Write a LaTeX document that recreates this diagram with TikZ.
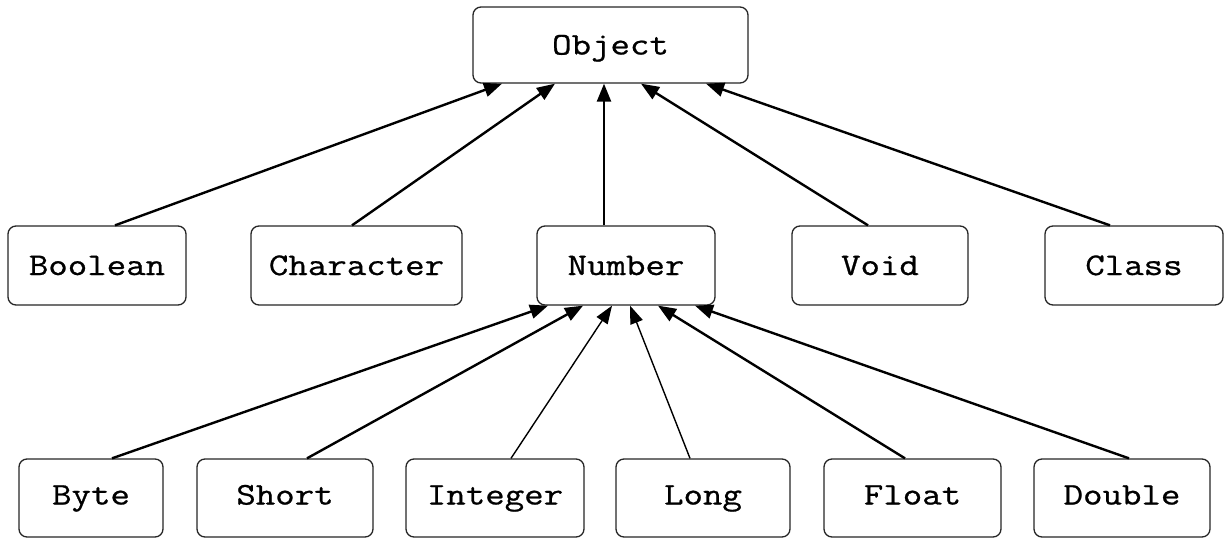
\documentclass[tikz,border=0pt]{standalone}
\usepackage{fontspec}
\newfontfamily\codefont[FakeStretch=1.2, FakeBold=0.8]{Latin Modern Mono}
\usetikzlibrary{arrows.meta}
\begin{document}
\begin{tikzpicture}[x=1pt,y=-1pt,
  cls/.style={draw=black!85, line width=1.3pt, rounded corners=8pt, fill=white,
    inner sep=0pt, text height=19pt, text depth=0pt,
    font=\codefont\fontsize{31.5}{36}\selectfont},
  rowtwo/.style={cls, minimum height=79pt},
  rowthree/.style={cls, minimum height=78pt, text depth=6pt},
  inherit/.style={line width=2.4pt, -{Triangle[length=18pt,width=14pt]}},
  thin inherit/.style={line width=1.4pt, -{Triangle[length=18pt,width=13pt]}}]
\useasboundingbox (0,0) rectangle (1229,541);

% root class
\node[cls, minimum width=275pt, minimum height=76pt] (obj) at (610.5,45) {Object};

% direct subclasses of Object
\node[rowtwo, minimum width=178pt] (bool) at (97,265.5)   {Boolean};
\node[rowtwo, minimum width=211pt] (char) at (356.5,265.5) {Character};
\node[rowtwo, minimum width=178pt] (num)  at (626,265.5)  {Number};
\node[rowtwo, minimum width=176pt] (void) at (880,265.5)  {Void};
\node[rowtwo, minimum width=178pt] (clss) at (1134,265.5) {Class};

% subclasses of Number
\node[rowthree, minimum width=144pt] (byte)  at (91,498)    {Byte};
\node[rowthree, minimum width=176pt] (short) at (285,498)   {Short};
\node[rowthree, minimum width=178pt] (int)   at (495,498)   {Integer};
\node[rowthree, minimum width=174pt] (long)  at (703,498)   {Long};
\node[rowthree, minimum width=177pt] (flt)   at (912.5,498) {Float};
\node[rowthree, minimum width=176pt] (dbl)   at (1122,498)  {Double};

% inheritance arrows to Object
\draw[inherit] ([xshift=18pt]bool.north)  -- ([xshift=-108.5pt]obj.south);
\draw[inherit] ([xshift=-4.5pt]char.north) -- ([xshift=-55.5pt]obj.south);
\draw[inherit] ([xshift=-22pt]num.north)  -- ([xshift=-6.5pt]obj.south);
\draw[inherit] ([xshift=-12pt]void.north) -- ([xshift=30.5pt]obj.south);
\draw[inherit] ([xshift=-24pt]clss.north) -- ([xshift=95.5pt]obj.south);

% inheritance arrows to Number
\draw[inherit]      ([xshift=21pt]byte.north)  -- ([xshift=-78pt]num.south);
\draw[inherit]      ([xshift=22pt]short.north) -- ([xshift=-43pt]num.south);
\draw[thin inherit] ([xshift=16pt]int.north)   -- ([xshift=-14pt]num.south);
\draw[thin inherit] ([xshift=-13pt]long.north) -- ([xshift=4pt]num.south);
\draw[inherit]      ([xshift=-7.5pt]flt.north) -- ([xshift=32pt]num.south);
\draw[inherit]      ([xshift=7pt]dbl.north)    -- ([xshift=69pt]num.south);
\end{tikzpicture}
\end{document}
